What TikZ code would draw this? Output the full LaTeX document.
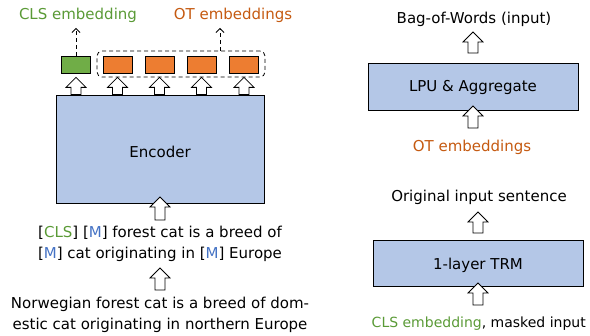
\documentclass[tikz,border=0pt]{standalone}
\usepackage{fontspec}
\setmainfont{DejaVu Sans}
\usetikzlibrary{calc,arrows.meta}
\definecolor{boxblue}{HTML}{B4C7E7}
\definecolor{boxgreen}{HTML}{70AD47}
\definecolor{boxorange}{HTML}{ED7D31}
\definecolor{txtgreen}{HTML}{5A9A36}
\definecolor{txtorange}{HTML}{C55A11}
\definecolor{txtblue}{HTML}{4472C4}
\begin{document}
\begin{tikzpicture}[x=1pt,y=-1pt,font=\fontsize{15}{21}\selectfont,
  bigbox/.style={draw,line width=0.9pt,fill=boxblue,inner sep=0pt},
  tok/.style={draw,line width=0.8pt,minimum width=29pt,minimum height=17pt,inner sep=0pt},
  lbl/.style={inner sep=0pt,align=center},
  blockarr/.style={draw,fill=white,line width=0.8pt,
    to path={let \p1=(\tikztostart),\p2=(\tikztotarget) in
      (\x1-5pt,\y1) -- (\x1-5pt,\y2-10pt) -- (\x1-10pt,\y2-10pt) -- (\x1,\y2)
      -- (\x1+10pt,\y2-10pt) -- (\x1+5pt,\y2-10pt) -- (\x1+5pt,\y1) -- cycle}},
  dasharr/.style={draw,line width=0.8pt,dash pattern=on 4pt off 3pt,
    -{Straight Barb[length=4pt,width=8pt]}}]
\useasboundingbox (0,0) rectangle (590,336);

% ---------- left ----------
\node[lbl,text=txtgreen] (clslab) at (78,15) {CLS embedding};
\node[lbl,text=txtorange] (otlab) at (233,15) {OT embeddings};

\node[tok,fill=boxgreen] (t0) at (76,64.5) {};
\node[tok,fill=boxorange] (t1) at (117.5,64.5) {};
\node[tok,fill=boxorange] (t2) at (159.5,64.5) {};
\node[tok,fill=boxorange] (t3) at (201.5,64.5) {};
\node[tok,fill=boxorange] (t4) at (244,64.5) {};
\node[draw,line width=0.8pt,dash pattern=on 4pt off 3pt,rounded corners=5pt,
      minimum width=168pt,minimum height=26pt,inner sep=0pt] (otgroup) at (181,64) {};

\coordinate (clstip) at (76,28);
\coordinate (ottip) at (220,28);
\draw[dasharr] (t0.north) -- (clstip);
\draw[dasharr] ([xshift=39pt]otgroup.north) -- (ottip);

\node[bigbox,minimum width=208pt,minimum height=108pt] (enc) at (160,149) {};
\node[lbl] (enctext) at (160,152) {Encoder};

\foreach \t in {t0,t1,t2,t3,t4}{
  \draw[blockarr] (enc.north -| \t.south) to ([yshift=-4pt]\t.south);
}

\node[lbl] (masked) at (160,244) {{[}{\color{txtgreen}CLS}{]} {[}{\color{txtblue}M}{]} forest cat is a breed of\\{[}{\color{txtblue}M}{]} cat originating in {[}{\color{txtblue}M}{]} Europe};
\coordinate (a5base) at (160,220);
\coordinate (a5tip) at (160,197);
\draw[blockarr] (a5base) to (a5tip);

\node[lbl] (orig) at (160,315) {Norwegian forest cat is a breed of dom-\\estic cat originating in northern Europe};
\coordinate (a6base) at (160,290);
\coordinate (a6tip) at (160,268);
\draw[blockarr] (a6base) to (a6tip);

% ---------- right ----------
\node[lbl] (bow) at (474,19) {Bag-of-Words (input)};
\node[bigbox,minimum width=210pt,minimum height=47pt] (lpu) at (473,86.5) {};
\node[lbl] (lputext) at (473,87) {LPU \& Aggregate};
\coordinate (r1base) at (473,53);
\coordinate (r1tip) at (473,32);
\draw[blockarr] (r1base) to (r1tip);

\node[lbl,text=txtorange] (otemb) at (472,147) {OT embeddings};
\coordinate (r2base) at (473,128);
\coordinate (r2tip) at (473,106);
\draw[blockarr] (r2base) to (r2tip);

\node[lbl] (origr) at (479,197) {Original input sentence};
\node[bigbox,minimum width=210pt,minimum height=46pt] (trm) at (478,263) {};
\node[lbl] (trmtext) at (478,265) {1-layer TRM};
\coordinate (r3base) at (478,233);
\coordinate (r3tip) at (478,212);
\draw[blockarr] (r3base) to (r3tip);

\node[lbl,anchor=east,font=\fontsize{14}{20}\selectfont] (clsin) at (586,324) {{\color{txtgreen}CLS embedding}, masked input};
\coordinate (r4base) at (478,305);
\coordinate (r4tip) at (478,283);
\draw[blockarr] (r4base) to (r4tip);
\end{tikzpicture}
\end{document}
